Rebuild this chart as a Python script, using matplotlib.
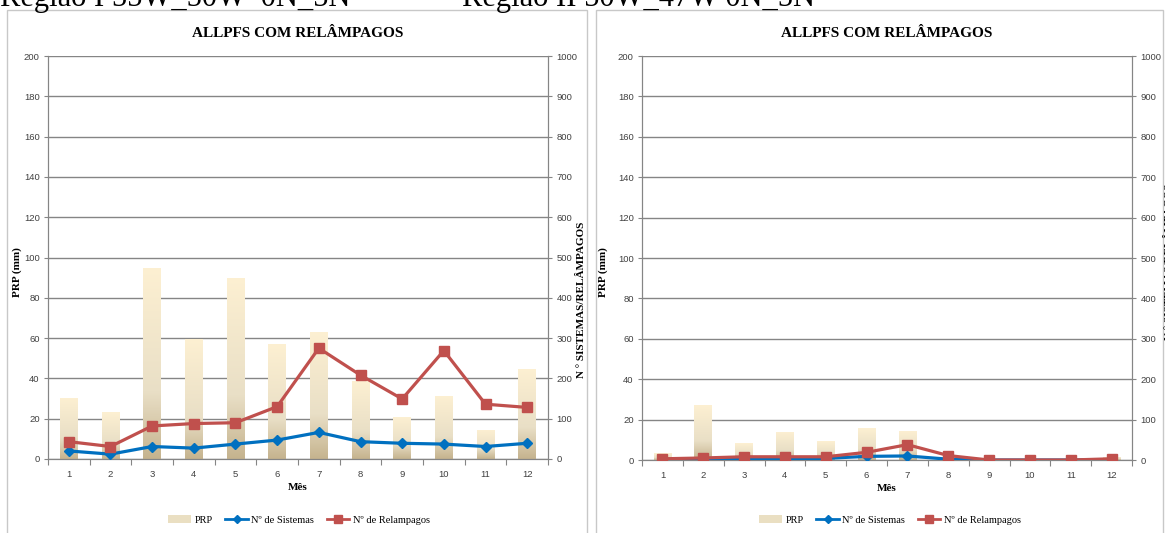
import numpy as np
import matplotlib
matplotlib.use("Agg")
from matplotlib import pyplot as plt
from matplotlib.patches import Rectangle, Patch
from matplotlib.lines import Line2D
from matplotlib.colors import LinearSegmentedColormap

# meses
meses = list(range(1, 13))

# Região I
prp_1 = [30.4, 23.3, 95, 59.4, 90, 57, 63.2, 38.7, 21, 31.3, 14.4, 44.7]
sistemas_1 = [20, 12, 31, 27, 37, 47, 66, 43, 39, 37, 31, 39]
relampagos_1 = [43, 31, 82, 88, 90, 130, 275, 208, 149, 269, 136, 128]

# Região II
prp_2 = [3.3, 27.2, 8.4, 13.9, 9.4, 15.8, 14.4, 1.0, 0, 0, 0, 1.5]
sistemas_2 = [1, 2, 3, 3, 4, 9, 10, 2, 0, 0, 0, 1]
relampagos_2 = [3, 5, 8, 8, 8, 19, 38, 11, 0, 0, 0, 3]

titulos_regiao = ["Região I 55W_50W  0N_5N", "Região II 50W_47W 0N_5N"]
titulo = "ALLPFS COM RELÂMPAGOS"

W, H = 1165, 533
fig = plt.figure(figsize=(W / 100, H / 100), dpi=100)

serif = ["Liberation Serif", "DejaVu Serif"]
narrow = ["Liberation Sans Narrow", "Liberation Sans", "DejaVu Sans"]
cinza = "#858585"
azul = "#0070c0"
vermelho = "#c0504d"

grad = LinearSegmentedColormap.from_list(
    "prp", [(0.0, "#c5b38e"), (0.35, "#e9dfc6"), (1.0, "#fdf0d2")])


def px(x0, y0, x1, y1):
    # caixa em pixels -> coordenadas da figura
    return [x0 / W, 1 - y1 / H, (x1 - x0) / W, (y1 - y0) / H]


def painel(box, moldura, prp, sis, rel, ylab_x, ylab2_pos, leg_x):
    fig.add_artist(Rectangle((moldura[0] / W, -0.1), (moldura[1] - moldura[0]) / W,
                             1 - moldura[2] / H + 0.1, transform=fig.transFigure,
                             fill=False, edgecolor="#c8c8c8", lw=1.0))
    ax = fig.add_axes(px(*box))
    ax2 = ax.twinx()
    ax.set_zorder(1)
    ax2.set_zorder(2)
    ax.patch.set_visible(False)
    ax2.patch.set_visible(False)

    ax.set_xlim(0.5, 12.5)
    ax.set_ylim(0, 200)
    ax2.set_ylim(0, 1000)
    ax.set_yticks(np.arange(0, 201, 20))
    ax2.set_yticks(np.arange(0, 1001, 100))
    ax.yaxis.grid(True, color=cinza, lw=1.0)
    ax.set_axisbelow(True)

    bars = ax.bar(meses, prp, width=0.43, facecolor="none", edgecolor="none")
    g = np.linspace(0, 1, 256).reshape(-1, 1)
    for b in bars:
        x0, w, h = b.get_x(), b.get_width(), b.get_height()
        if h <= 0:
            continue
        im = ax.imshow(g, cmap=grad, origin="lower", aspect="auto",
                       extent=[x0, x0 + w, 0, h], zorder=2)
        im.set_clip_path(b)
    ax.set_xlim(0.5, 12.5)
    ax.set_ylim(0, 200)

    ax2.plot(meses, sis, color=azul, lw=2.3, marker="D", ms=5, mec=azul, zorder=3)
    ax2.plot(meses, rel, color=vermelho, lw=2.3, marker="s", ms=7, mec=vermelho, zorder=4)

    ax.set_xticks(np.arange(0.5, 12.6, 1))
    ax.set_xticklabels([])
    ax.set_xticks(meses, minor=True)
    ax.set_xticklabels([str(m) for m in meses], minor=True)
    ax.tick_params(axis="x", which="major", length=4, color=cinza, direction="out")
    ax.tick_params(axis="x", which="minor", length=0, pad=8, labelsize=6.8,
                   labelcolor="#404040")
    for t in ax.get_xticklabels(minor=True):
        t.set_family(narrow)
    for a in (ax, ax2):
        a.tick_params(axis="y", length=3, color=cinza, labelsize=6.8,
                      labelcolor="#404040", pad=3)
        for s in a.spines.values():
            s.set_color(cinza)
        a.spines["top"].set_visible(False)
    for t in ax.get_yticklabels() + ax2.get_yticklabels():
        t.set_family(narrow)

    ax.set_xlabel("Mês", fontsize=8, fontweight="bold", family=serif, labelpad=3)
    ax.set_ylabel("PRP (mm)", fontsize=8, fontweight="bold", family=serif)
    ax.yaxis.set_label_coords(ylab_x, 0.465)
    ax2.set_ylabel("N ° SISTEMAS/RELÂMPAGOS", fontsize=8, fontweight="bold",
                   family=serif, rotation=90)
    ax2.yaxis.set_label_coords(*ylab2_pos)

    ax.set_title(titulo, fontsize=11, fontweight="bold", family=serif, pad=14)

    handles = [Patch(facecolor="#eadfc2", edgecolor="none"),
               Line2D([], [], color=azul, lw=2, marker="D", ms=4),
               Line2D([], [], color=vermelho, lw=2, marker="s", ms=6)]
    fig.legend(handles, ["PRP", "Nº de Sistemas", "Nº de Relampagos"],
               loc="center", bbox_to_anchor=(leg_x / W, 1 - 520 / H), ncol=3,
               frameon=False, prop={"family": serif, "size": 7.5},
               handlelength=2.2, handletextpad=0.3, columnspacing=1.2)
    return ax


painel((48, 56, 548, 459), (7, 587, 10), prp_1, sistemas_1, relampagos_1,
       -0.052, (1.058, 0.395), 299)
painel((642, 56, 1132, 460), (596, 1163, 10), prp_2, sistemas_2, relampagos_2,
       -0.069, (1.067, 0.49), 890)

fig.text(0, 1 - 6 / H, titulos_regiao[0], fontsize=22, family=serif, va="baseline")
fig.text(462 / W, 1 - 6 / H, titulos_regiao[1], fontsize=22, family=serif, va="baseline")

fig.savefig("out.png", dpi=100)
